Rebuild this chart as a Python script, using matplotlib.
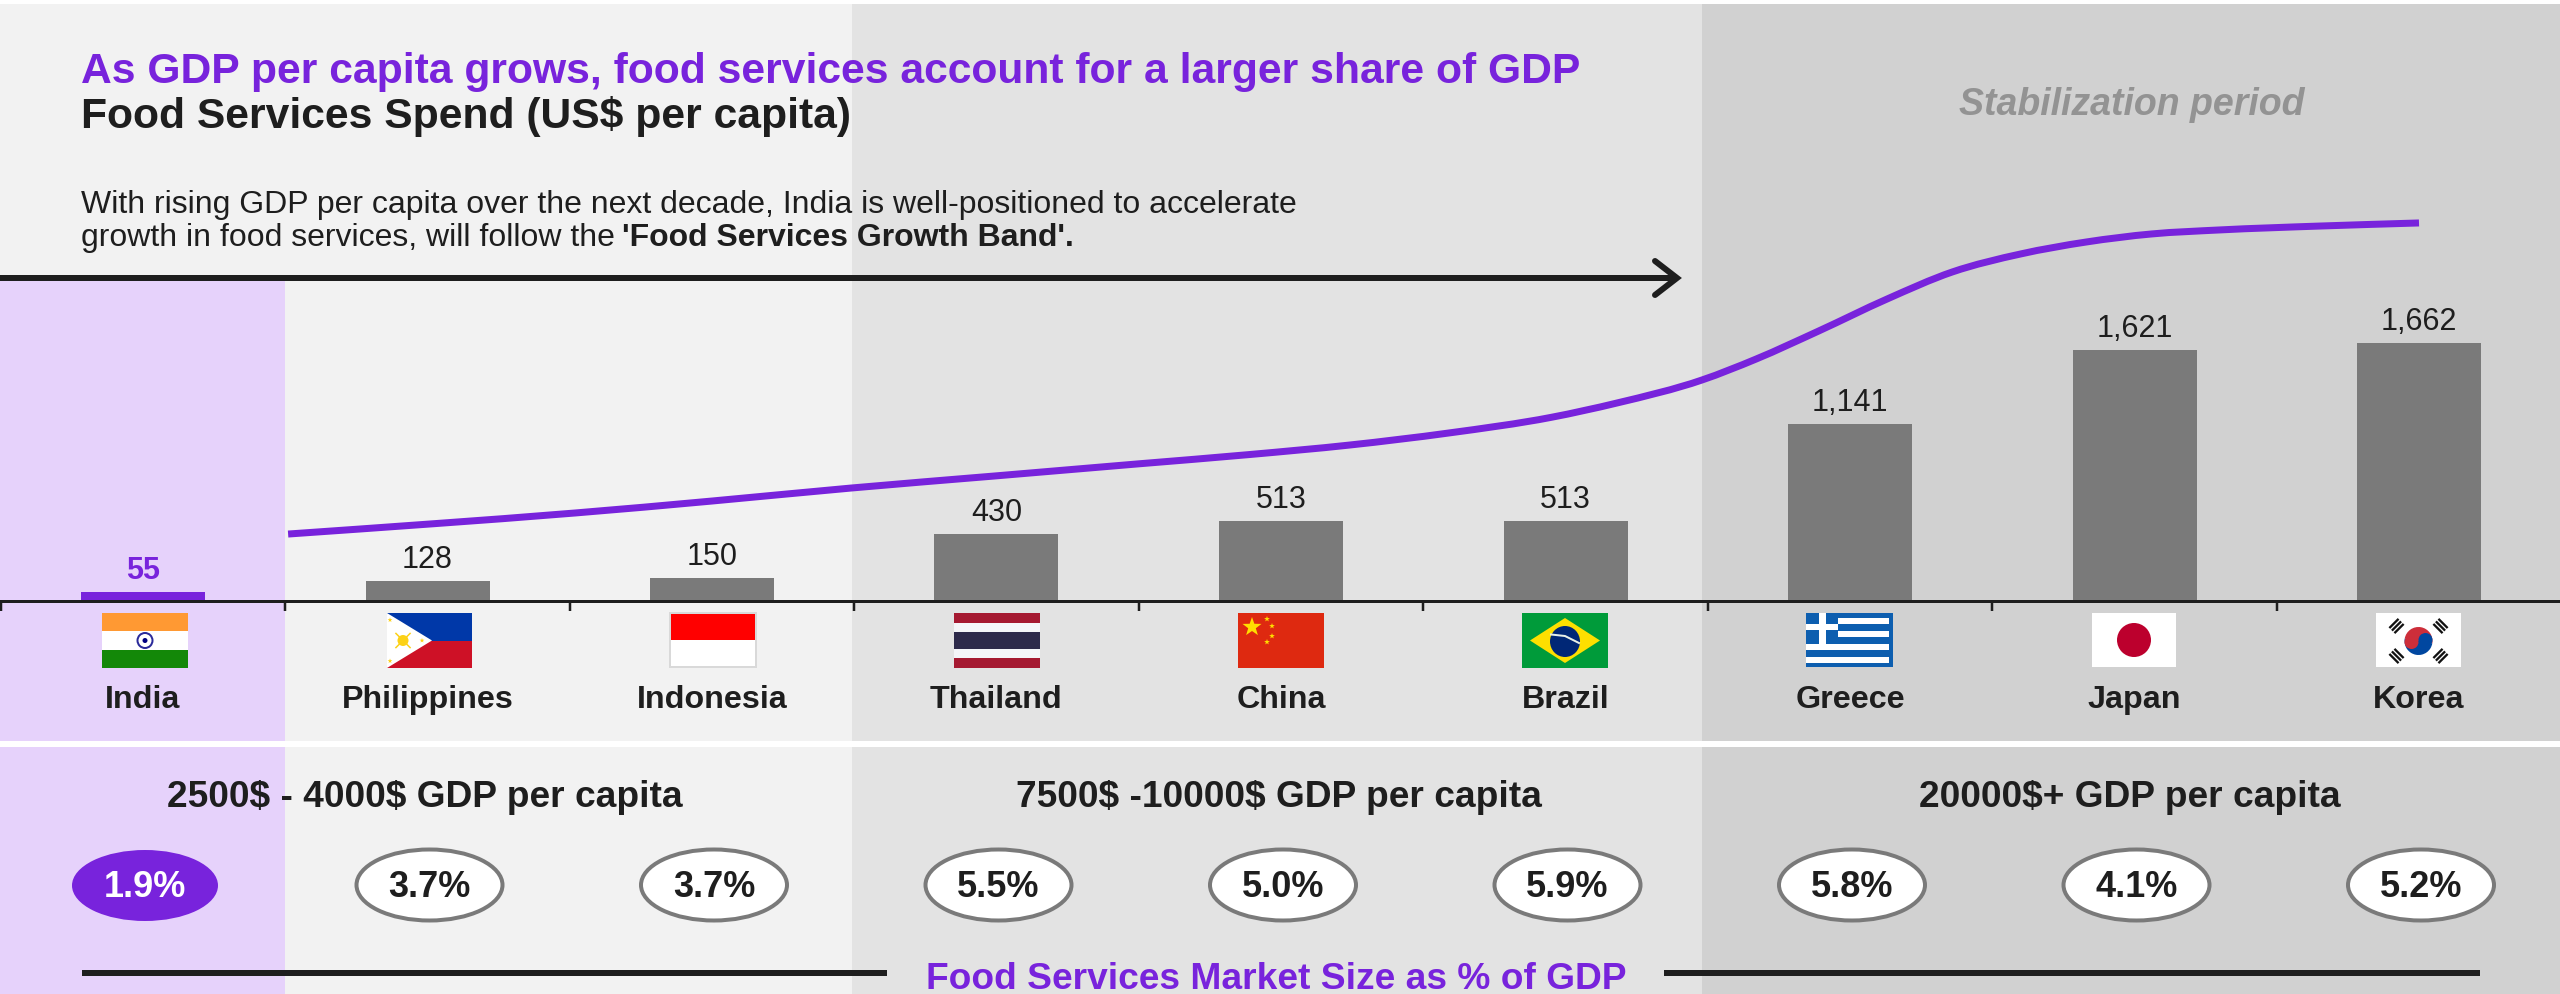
import matplotlib
matplotlib.use("Agg")
import matplotlib.pyplot as plt
from matplotlib.patches import Rectangle, Ellipse, Polygon, Circle, Wedge, PathPatch
from matplotlib.path import Path
import numpy as np

plt.rcParams['font.family'] = ['Liberation Sans', 'DejaVu Sans']

# ---------- data ----------
countries = ['India', 'Philippines', 'Indonesia', 'Thailand', 'China', 'Brazil', 'Greece', 'Japan', 'Korea']
spend = [55, 128, 150, 430, 513, 513, 1141, 1621, 1662]
share_labels = ['1.9%', '3.7%', '3.7%', '5.5%', '5.0%', '5.9%', '5.8%', '4.1%', '5.2%']
group_labels = [r'2500\$ - 4000\$ GDP per capita', r'7500\$ -10000\$ GDP per capita', r'20000\$+ GDP per capita']
curve_x = [0.51, 1.01, 1.52, 2.0, 2.49, 2.99, 3.50, 3.89, 4.24, 4.59, 4.95, 5.18, 5.48, 5.67, 5.89, 6.13, 6.36, 6.60, 6.83, 7.06, 7.30, 7.65, 8.0]
curve_y = [432, 497, 568, 645, 729, 806, 885, 945, 1006, 1084, 1185, 1277, 1426, 1561, 1742, 1948, 2123, 2239, 2316, 2368, 2394, 2419, 2439]

PURPLE = '#7823DC'
INK = '#1E1E1E'
GREY = '#7A7A7A'
W, H = 2560, 994
DPI = 100
px = 72 / DPI

fig = plt.figure(figsize=(W / DPI, H / DPI), dpi=DPI, facecolor='white')

def full_axes(z):
    a = fig.add_axes([0, 0, 1, 1], zorder=z)
    a.patch.set_alpha(0)
    return a

# ---------- background (pixel coordinates) ----------
bg = full_axes(0)
bg.set_xlim(0, W); bg.set_ylim(H, 0); bg.axis('off')
zones = [(0, 852, '#F2F2F2'), (852, 1702, '#E3E3E3'), (1702, W, '#D1D1D1')]
for y0, y1 in [(4, 741), (747, H)]:
    for x0, x1, c in zones:
        bg.add_patch(Rectangle((x0, y0), x1 - x0, y1 - y0, fc=c, ec='none'))
for y0, y1 in [(281, 741), (747, H)]:
    bg.add_patch(Rectangle((0, y0), 285, y1 - y0, fc='#E6D2FB', ec='none'))

# ---------- chart: x = category index, y = US$ per capita ----------
X0, STEP, BASE, SCALE = 143, 284.5, 601, 0.155
ax = full_axes(1)
ax.set_xlim((0 - X0) / STEP, (W - X0) / STEP)
ax.set_ylim((BASE - H) / SCALE, BASE / SCALE)
idx = np.arange(len(countries))
bar_colors = [PURPLE] + [GREY] * 8
ax.bar(idx, spend, width=124 / STEP, color=bar_colors, linewidth=0)
for i, v in zip(idx, spend):
    ax.annotate(f'{v:,}', (i, v), xytext=(0, 13 * px), textcoords='offset points', ha='center', va='baseline',
                fontsize=22, color=PURPLE if i == 0 else INK, fontweight='bold' if i == 0 else 'normal')

# smooth growth band through the points (Bezier segments with slopes from neighbours)
cx_, cy_ = np.array(curve_x, float), np.array(curve_y, float)
slopes = np.gradient(cy_, cx_)
verts, codes = [(cx_[0], cy_[0])], [Path.MOVETO]
for k in range(len(cx_) - 1):
    d = (cx_[k + 1] - cx_[k]) / 3
    verts += [(cx_[k] + d, cy_[k] + slopes[k] * d), (cx_[k + 1] - d, cy_[k + 1] - slopes[k + 1] * d), (cx_[k + 1], cy_[k + 1])]
    codes += [Path.CURVE4] * 3
ax.add_patch(PathPatch(Path(verts, codes), fc='none', ec=PURPLE, lw=7 * px, capstyle='butt'))

for s in ['top', 'left', 'right']:
    ax.spines[s].set_visible(False)
ax.spines['bottom'].set_position(('data', 0))
ax.spines['bottom'].set_linewidth(3 * px)
ax.spines['bottom'].set_color(INK)
ax.set_yticks([])
ax.set_xticks(idx - 0.5, minor=False)
ax.set_xticks(idx, minor=True)
ax.tick_params(axis='x', which='major', length=10 * px, width=2.5 * px, color=INK, labelbottom=False, direction='out')
ax.set_xticklabels(countries, minor=True, fontsize=23.2, fontweight='bold', color=INK, va='baseline')
ax.tick_params(axis='x', which='minor', length=0, pad=107 * px)

# ---------- overlay (pixel coordinates) ----------
ov = full_axes(2)
ov.set_xlim(0, W); ov.set_ylim(H, 0); ov.axis('off')

def T(x, y, s, **k):
    k.setdefault('color', INK); k.setdefault('va', 'baseline')
    return ov.text(x, y, s, **k)

T(81, 83, 'As GDP per capita grows, food services account for a larger share of GDP', fontsize=30.7, fontweight='bold', color=PURPLE)
T(81, 128, r'Food Services Spend (US\$ per capita)', fontsize=30.7, fontweight='bold')
T(81, 213, 'With rising GDP per capita over the next decade, India is well-positioned to accelerate', fontsize=23)
T(81, 246, 'growth in food services, will follow the ', fontsize=23)
T(622, 246, "'Food Services Growth Band'.", fontsize=23, fontweight='bold')
T(2132, 115, 'Stabilization period', fontsize=27, fontweight='bold', fontstyle='italic', color='#939393', ha='center')

# arrow
ov.plot([0, 1676], [278, 278], color=INK, lw=6 * px, solid_capstyle='butt')
ov.plot([1655, 1677, 1655], [261, 278, 295], color=INK, lw=6 * px, solid_capstyle='round', solid_joinstyle='miter')

# group headings
for cx, s in zip([425, 1279, 2130], group_labels):
    T(cx, 807, s, fontsize=26.7, fontweight='bold', ha='center')

# share ovals
for i, s in enumerate(share_labels):
    cx = 145 + 284.5 * i
    if i == 0:
        ov.add_patch(Ellipse((cx, 885.5), 146, 71, fc=PURPLE, ec='none'))
        T(cx, 897, s, fontsize=26, fontweight='bold', color='white', ha='center')
    else:
        ov.add_patch(Ellipse((cx, 885), 146, 71, fc='white', ec=GREY, lw=4 * px))
        T(cx, 897, s, fontsize=26, fontweight='bold', ha='center')

# footer
ov.plot([82, 887], [973, 973], color=INK, lw=6 * px, solid_capstyle='butt')
ov.plot([1664, 2480], [973, 973], color=INK, lw=6 * px, solid_capstyle='butt')
T(1276, 989, 'Food Services Market Size as % of GDP', fontsize=26.7, fontweight='bold', color=PURPLE, ha='center')

# ---------- flags ----------
def rect(x, y, w, h, c, z=3):
    ov.add_patch(Rectangle((x, y), w, h, fc=c, ec='none', zorder=z))

def star(cx, cy, r, c, rot=-90, z=5):
    a = np.deg2rad(rot + np.arange(10) * 36)
    rr = np.where(np.arange(10) % 2 == 0, r, r * 0.4)
    ov.add_patch(Polygon(np.column_stack([cx + rr * np.cos(a), cy + rr * np.sin(a)]), fc=c, ec='none', zorder=z))

# India
x, y, w, h = 102, 613, 86, 55
rect(x, y, w, h / 3, '#FF9933'); rect(x, y + h / 3, w, h / 3, 'white'); rect(x, y + 2 * h / 3, w, h / 3, '#138808')
ov.add_patch(Circle((x + w / 2, y + h / 2), 7.5, fc='white', ec='#2A2A9A', lw=2 * px, zorder=4))
ov.add_patch(Circle((x + w / 2, y + h / 2), 2.5, fc='#000080', ec='none', zorder=5))
# Philippines
x, y, w, h = 387, 613, 85, 55
rect(x, y, w, h / 2, '#0038A8'); rect(x, y + h / 2, w, h / 2, '#CE1126')
ov.add_patch(Polygon([(x, y), (x + 45, y + h / 2), (x, y + h)], fc='white', ec='none', zorder=4))
ov.add_patch(Circle((x + 16, y + h / 2), 5.5, fc='#FCD116', ec='none', zorder=5))
for dx, dy in [(3, 7), (3, 48), (35, 27.5)]:
    star(x + dx, y + dy, 2.5, '#FCD116')
for a in [45, 135, 225, 315]:
    ra = np.deg2rad(a)
    ov.plot([x + 16, x + 16 + 10 * np.cos(ra)], [y + h / 2, y + h / 2 + 10 * np.sin(ra)], color='#FCD116', lw=1.5 * px, zorder=5)
# Indonesia
x, y, w, h = 670, 613, 86, 54
ov.add_patch(Rectangle((x, y), w, h, fc='white', ec='#D9D9D9', lw=2 * px, zorder=3))
rect(x + 1, y + 1, w - 2, h / 2 - 1, '#FF0000', 4)
# Thailand
x, y, w, h = 954, 613, 86, 55
rect(x, y, w, h, '#A51931')
rect(x, y + h / 6 + 0.5, w, 2 * h / 3 - 1, '#F4F5F8')
rect(x, y + h / 3 + 0.5, w, h / 3 - 1, '#2D2A4A')
# China
x, y, w, h = 1238, 613, 86, 55
rect(x, y, w, h, '#DE2910')
star(x + 14, y + 14, 10, '#FFDE00')
for dx, dy, r in [(29, 6, 3), (34, 13, 3), (34, 23, 3), (29, 29, 3)]:
    star(x + dx, y + dy, r, '#FFDE00')
# Brazil
x, y, w, h = 1522, 613, 86, 55
rect(x, y, w, h, '#009B3A')
ov.add_patch(Polygon([(x + 8, y + h / 2), (x + w / 2, y + 5), (x + w - 8, y + h / 2), (x + w / 2, y + h - 5)], fc='#FEDF00', ec='none', zorder=4))
ov.add_patch(Ellipse((x + w / 2, y + h / 2 + 1), 30, 31, fc='#002776', ec='none', zorder=5))
ov.plot([x + w / 2 - 14, x + w / 2, x + w / 2 + 14], [y + 21.5, y + 23, y + 30], color='#E8F0E8', lw=2 * px, zorder=6)
# Greece
x, y, w, h = 1806, 613, 87, 54
rect(x, y, w, h, '#0D5EAF')
for dy in [31, 44]:
    rect(x, y + dy, w - 4, 5.5, 'white', 4)
for dy in [5, 18]:
    rect(x + 32, y + dy, w - 36, 5.5, 'white', 4)
rect(x + 13, y, 6.5, 31, 'white', 5)
rect(x, y + 11, 32, 6, 'white', 5)
# Japan
x, y, w, h = 2092, 613, 84, 54
rect(x, y, w, h, 'white')
ov.add_patch(Circle((x + w / 2, y + h / 2), 17, fc='#BC002D', ec='none', zorder=4))
# Korea
x, y, w, h = 2376, 613, 85, 54
rect(x, y, w, h, 'white')
cx, cy = x + w / 2, y + h / 2 + 1
ov.add_patch(Wedge((cx, cy), 14, 190, 370, fc='#CD2E3A', ec='none', zorder=4))
ov.add_patch(Wedge((cx, cy), 14, 10, 190, fc='#0047A0', ec='none', zorder=4))
ov.add_patch(Circle((cx - 7, cy + 1), 7, fc='#CD2E3A', ec='none', zorder=5))
ov.add_patch(Circle((cx + 7, cy - 1), 7, fc='#0047A0', ec='none', zorder=5))
for sx, sy in [(-1, -1), (1, -1), (-1, 1), (1, 1)]:
    ang = np.arctan2(sy, sx) + np.pi / 2
    ccx, ccy = cx + sx * 22, cy + sy * 15
    for t in (-3.6, 0, 3.6):
        ox, oy = t * np.cos(ang + np.pi / 2), t * np.sin(ang + np.pi / 2)
        ov.plot([ccx + ox - 6.5 * np.cos(ang), ccx + ox + 6.5 * np.cos(ang)],
                [ccy + oy - 6.5 * np.sin(ang), ccy + oy + 6.5 * np.sin(ang)], color='#111111', lw=2.3 * px, zorder=5, solid_capstyle='butt')

fig.savefig('out.png', dpi=DPI, facecolor='white')
